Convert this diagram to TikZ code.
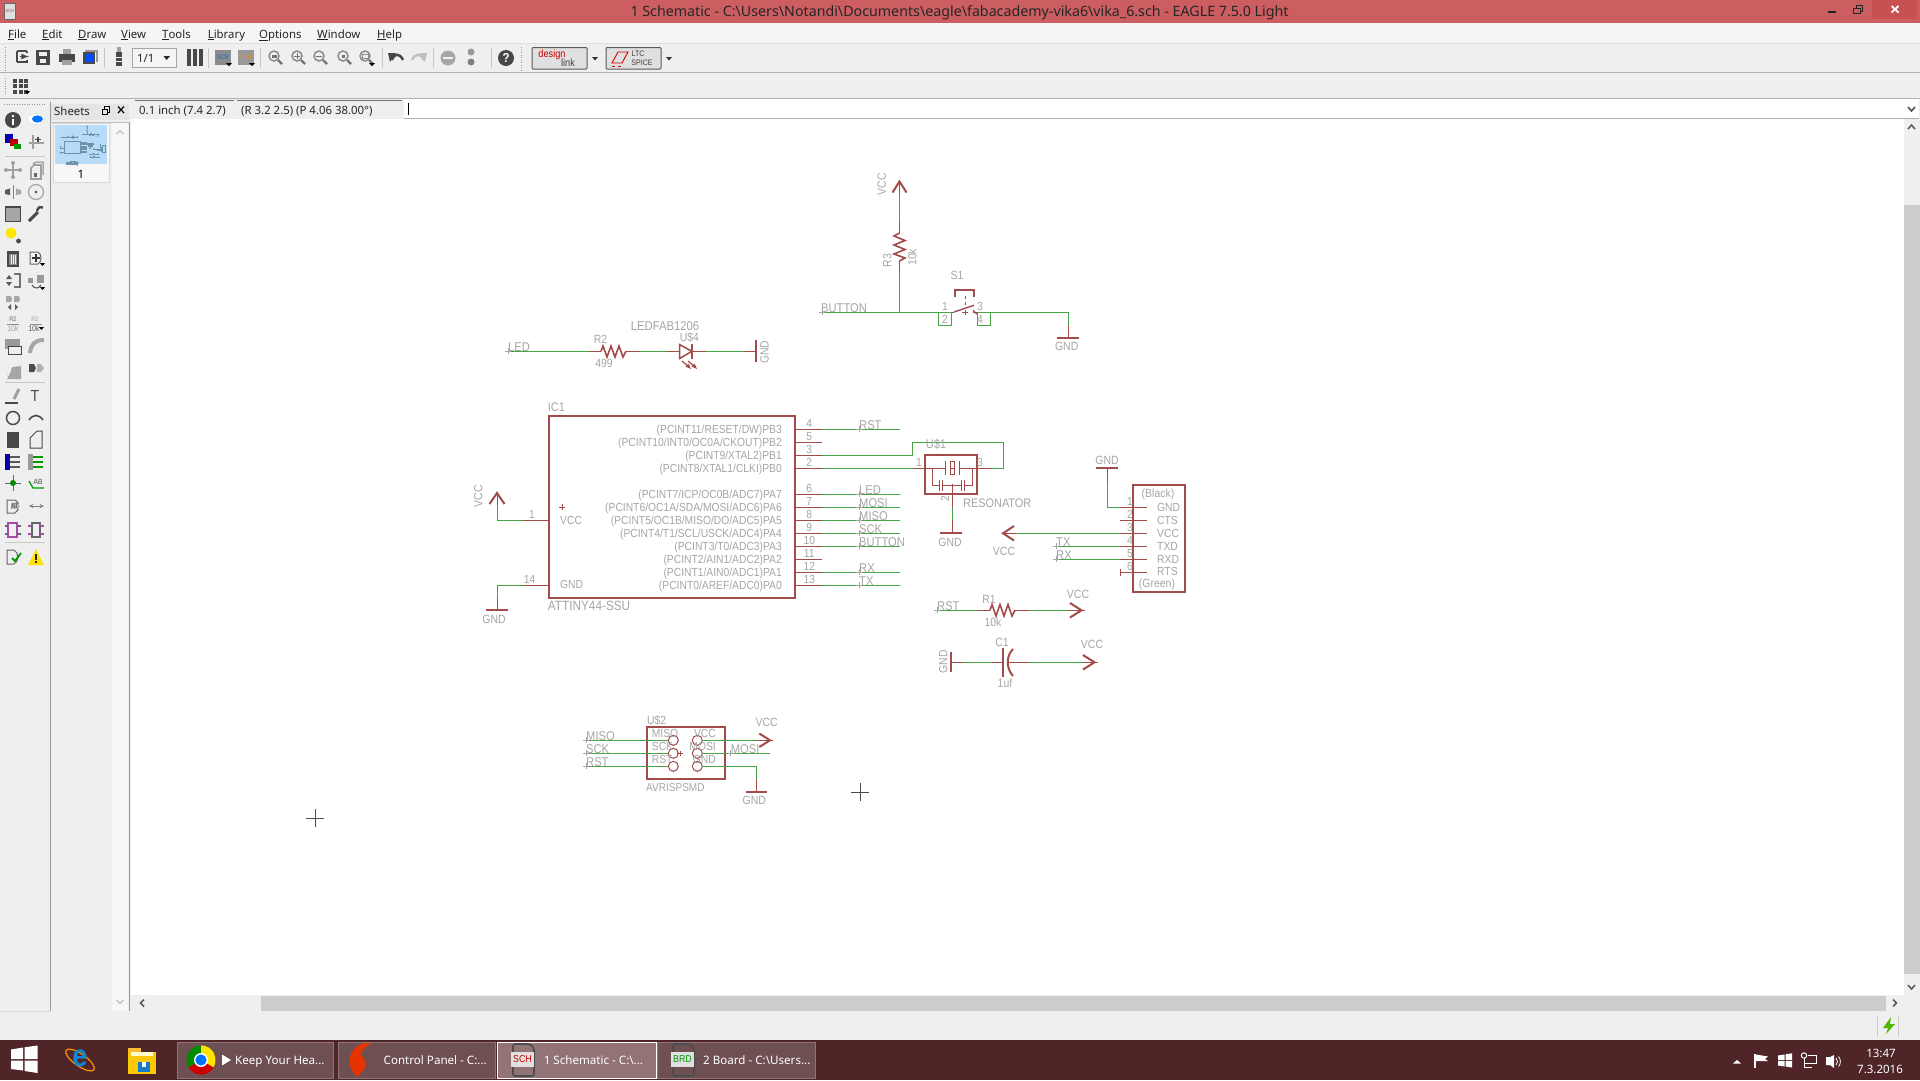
\documentclass[tikz,border=0pt]{standalone}
\usepackage{fontspec}
\setmainfont[FakeStretch=0.88]{Liberation Sans}
\newfontfamily\ui{Noto Sans}
\newfontfamily\sym{DejaVu Sans}
\definecolor{titlered}{HTML}{CC5D60}
\definecolor{closered}{HTML}{C75050}
\definecolor{menubg}{HTML}{F4F5F7}
\definecolor{barbg}{HTML}{EFEFEF}
\definecolor{barline}{HTML}{B0B0B0}
\definecolor{schred}{HTML}{A34A4A}
\definecolor{schgreen}{HTML}{46A546}
\definecolor{lblgray}{HTML}{A6A6A6}
\definecolor{taskbg}{HTML}{4F2527}
\definecolor{taskbtn}{HTML}{6F5052}
\definecolor{taskact}{HTML}{927476}
\definecolor{taskedge}{HTML}{8F7577}
\definecolor{ico}{HTML}{484848}
\definecolor{icogray}{HTML}{A0A0A0}
\definecolor{thumbblue}{HTML}{B8DCF8}
\definecolor{thumbline}{HTML}{6C93A8}
\tikzset{
 rl/.style={draw=schred,line width=1pt},
 zz/.style={draw=schred,line width=1.6pt},
 gl/.style={draw=schgreen,line width=1pt},
 hv/.style={draw=schred,line width=2pt},
 tk/.style={draw=lblgray,line width=.7pt},
 lbl/.style={text=lblgray,font=\fontsize{11.9}{12}\selectfont,inner sep=0pt,text height=8.5pt,text depth=0pt},
 pn/.style={text=lblgray,font=\fontsize{11.7}{12}\selectfont,inner sep=0pt,text height=8.3pt,text depth=0pt},
 netl/.style={text=lblgray,font=\fontsize{12.7}{13}\selectfont,inner sep=0pt,text height=9pt,text depth=0pt,anchor=south west},
 uit/.style={text=black!85,font=\fontsize{11.4}{13}\selectfont\ui,inner sep=0pt,text height=8.5pt,text depth=0pt},
 menut/.style={uit,anchor=west},
 taskt/.style={text=white,font=\fontsize{11.6}{13}\selectfont\ui,inner sep=0pt,text height=8.5pt,text depth=0pt,anchor=west},
 sep/.style={draw=black!22,line width=.8pt},
 grip/.style={draw=black!40,line width=1pt,dash pattern=on 1pt off 1.5pt},
 ikon/.style={draw=ico,line width=1.6pt},
 ikong/.style={draw=icogray,line width=1.6pt},
 tinyt/.style={inner sep=0pt,font=\fontsize{6.5}{7}\selectfont},
}
% the drawing of the schematic: used on the sheet and in its small preview
\newcommand{\schemlines}{%
 % IC1
 \draw[hv] (549,416) rectangle (795,598);
 \foreach \yy in {429.3,442.3,455.3,468.3,494.3,507.3,520.3,533.3,546.3,559.3,572.3,585.3}
   \draw[rl] (795,\yy) -- (822,\yy);
 \foreach \yy in {429.3,494.3,507.3,520.3,533.3,546.3,572.3,585.3}
   \draw[gl] (822,\yy) -- (900,\yy);
 \draw[gl] (822,455.3) -- (912,455.3) -- (912,442.3) -- (1003,442.3) -- (1003,468.3) -- (991,468.3);
 \draw[gl] (822,468.3) -- (913,468.3);
 \draw[rl] (549,520.3) -- (523,520.3);
 \draw[gl] (523,520.3) -- (497,520.3) -- (497,505);
 \draw[rl] (497,505) -- (497,492);
 \draw[hv] (489.5,504) -- (497,493) -- (504.5,504);
 \draw[rl] (549,585.3) -- (523,585.3);
 \draw[gl] (523,585.3) -- (497,585.3) -- (497,598);
 \draw[rl] (497,598) -- (497,610);
 \draw[hv] (486,610) -- (508,610);
 % resonator
 \draw[hv] (925,455) rectangle (977,494);
 \draw[rl] (913,468.3) -- (945,468.3);
 \draw[rl] (945,461) -- (945,475);
 \draw[rl] (950,461) rectangle (954,474);
 \draw[rl] (950,468.3) -- (954,468.3);
 \draw[rl] (959,461) -- (959,475);
 \draw[rl] (959,468.3) -- (991,468.3);
 \draw[rl] (932,468.3) -- (932,485) -- (939,485);
 \draw[rl] (939,480) -- (939,491);
 \draw[rl] (942,480) -- (942,491);
 \draw[rl] (942,485) -- (961,485);
 \draw[rl] (961,480) -- (961,491);
 \draw[rl] (964,480) -- (964,491);
 \draw[rl] (964,485) -- (972,485) -- (972,468.3);
 \draw[rl] (952,484) -- (952,507);
 \draw[gl] (952,507) -- (952,520);
 \draw[rl] (952,520) -- (952,533);
 \draw[hv] (940,533) -- (962,533);
 % FTDI header
 \draw[hv] (1133,485) rectangle (1185,592);
 \foreach \yy in {507.3,520.3,533.3,546.3,559.3,572.3}
   \draw[rl] (1120,\yy) -- (1147,\yy);
 \draw[hv] (1096,468) -- (1118,468);
 \draw[rl] (1107,468) -- (1107,482);
 \draw[gl] (1107,482) -- (1107,507.3) -- (1120,507.3);
 \draw[gl] (1120,533.3) -- (1017,533.3);
 \draw[rl] (1017,533.3) -- (1003,533.3);
 \draw[hv] (1014,526) -- (1003,533.3) -- (1014,540.5);
 \draw[gl] (1056,546.3) -- (1120,546.3);
 \draw[gl] (1056,559.3) -- (1120,559.3);
 \draw[rl] (1120,569) -- (1120,575.5);
 % R1
 \draw[gl] (937,610.3) -- (977,610.3);
 \draw[rl] (977,610.3) -- (990,610.3);
 \draw[zz] (990,610.3) -- (992,604.5) -- (996,616) -- (1000,604.5) -- (1004,616) -- (1008,604.5) -- (1012,616) -- (1015,610.3);
 \draw[rl] (1015,610.3) -- (1029,610.3);
 \draw[gl] (1029,610.3) -- (1068,610.3);
 \draw[rl] (1068,610.3) -- (1085,610.3);
 \draw[hv] (1070,603) -- (1081.5,610.3) -- (1070,617.5);
 % C1
 \draw[hv] (951,652) -- (951,672);
 \draw[rl] (951,662.3) -- (964,662.3);
 \draw[gl] (964,662.3) -- (991,662.3);
 \draw[rl] (991,662.3) -- (1003,662.3);
 \draw[hv] (1003,648) -- (1003,677);
 \draw[hv] (1013,649) .. controls (1006,656) and (1006,668) .. (1013,676);
 \draw[rl] (1008,662.3) -- (1029,662.3);
 \draw[gl] (1029,662.3) -- (1084,662.3);
 \draw[rl] (1084,662.3) -- (1098,662.3);
 \draw[hv] (1083,655) -- (1094.5,662.3) -- (1083,669.5);
 % R3 and VCC
 \draw[rl] (899.5,181) -- (899.5,195);
 \draw[hv] (892.5,192.5) -- (899.5,181.5) -- (906.5,192.5);
 \draw[gl] (899.5,195) -- (899.5,221);
 \draw[rl] (899.5,221) -- (899.5,233);
 \draw[zz] (899.5,233) -- (894,236) -- (905,240.5) -- (894,245) -- (905,249.5) -- (894,254) -- (905,258) -- (899.5,261);
 \draw[rl] (899.5,261) -- (899.5,273.3);
 \draw[gl] (899.5,273.3) -- (899.5,312.3);
 % S1
 \draw[gl] (822,312.3) -- (951.5,312.3) -- (951.5,325.3) -- (938.5,325.3) -- (938.5,312.3);
 \draw[gl] (990.5,312.3) -- (990.5,325.3) -- (977.5,325.3) -- (977.5,312.3) -- (1068.6,312.3) -- (1068.6,325);
 \draw[rl] (1068.6,325) -- (1068.6,338);
 \draw[hv] (1057,338) -- (1079,338);
 \draw[rl] (951.5,312.3) -- (954,312.3);
 \draw[schred,line width=1.4pt] (954,312) -- (974,305.3);
 \draw[rl] (973,312.3) -- (977.5,312.3);
 \draw[schred,line width=1.4pt] (973,310.5) -- (977,314);
 \draw[rl] (965,309.5) -- (965,315);
 \draw[rl] (962,312.3) -- (968,312.3);
 \draw[rl,dashed] (965,296) -- (965,309);
 \draw[hv] (954.5,297) -- (954.5,290) -- (974,290) -- (974,297);
 % LED and R2
 \draw[gl] (508,351.3) -- (589,351.3);
 \draw[rl] (589,351.3) -- (601,351.3);
 \draw[zz] (601,351.3) -- (603,346) -- (607,357) -- (611,346) -- (615,357) -- (619,346) -- (623,357) -- (626,351.3);
 \draw[rl] (626,351.3) -- (640.4,351.3);
 \draw[gl] (640.4,351.3) -- (667,351.3);
 \draw[rl] (667,351.3) -- (680,351.3);
 \draw[schred,line width=1.5pt] (679.5,344.5) -- (679.5,358.5) -- (692,351.3) -- cycle;
 \draw[hv] (692,344) -- (692,359);
 \draw[rl] (692,351.3) -- (705.5,351.3);
 \draw[gl] (705.5,351.3) -- (743.3,351.3);
 \draw[rl] (743.3,351.3) -- (756,351.3);
 \draw[hv] (756,340.3) -- (756,362);
 \draw[schred,line width=1.2pt] (682,361) -- (689,367);
 \draw[schred,line width=1.2pt] (688,361) -- (695,367);
 \fill[schred] (691,369) -- (685.5,366.5) -- (688.5,363.5) -- cycle;
 \fill[schred] (697,369) -- (691.5,366.5) -- (694.5,363.5) -- cycle;
 % AVRISP
 \draw[hv] (646.7,726.7) rectangle (725.3,779.3);
 \foreach \yy in {740.3,753.3,766.3} {
   \draw[gl] (586,\yy) -- (668.3,\yy);
   \draw[rl] (673.3,\yy) circle [radius=5];
   \draw[rl] (697.3,\yy) circle [radius=5];
 }
 \draw[rl] (677,753.3) -- (682.5,753.3);
 \draw[rl] (680,750.5) -- (680,756);
 \draw[gl] (702.3,740.3) -- (756.7,740.3);
 \draw[rl] (756.7,740.3) -- (772.7,740.3);
 \draw[hv] (759.3,733.5) -- (770,740.3) -- (759.3,747);
 \draw[gl] (702.3,753.3) -- (770,753.3);
 \draw[gl] (702.3,766.3) -- (756.7,766.3) -- (756.7,779.3);
 \draw[rl] (756.7,779.3) -- (756.7,791.7);
 \draw[hv] (746,791.7) -- (766.7,791.7);
}
\newcommand{\lensicon}[3]{% x, y, inner mark
 \draw[draw=black!45,line width=1.5pt] (#1-1,#2-1) circle [radius=5];
 \draw[draw=black!55,line width=2.2pt] (#1+3,#2+3) -- (#1+7,#2+7);
 \node[inner sep=0pt,text=black!55,font=\fontsize{8}{8}\selectfont\bfseries] (#3) at (#1-1,#2-1) {};
}
\begin{document}
\begin{tikzpicture}[x=1pt,y=-1pt]
\useasboundingbox (0,0) rectangle (1920,1080);
% ---- window chrome ----
\fill[barbg] (0,0) rectangle (1920,1080);
\fill[titlered] (0,0) rectangle (1920,22.7);
\fill[closered] (1872,0) rectangle (1917,19);
\fill[menubg] (0,23) rectangle (1920,43);
\draw[black!12,line width=1pt] (0,43.5) -- (1920,43.5);
\draw[barline,line width=1pt] (0,72.3) -- (1920,72.3);
\draw[barline,line width=1.5pt] (0,98.3) -- (1920,98.3);
\fill[white] (131,119) rectangle (1904,995);
% title bar
\node[text=black!85,font=\fontsize{14.24}{16}\selectfont\ui,inner sep=0pt,text height=10pt,text depth=0pt] (title) at (959.5,11) {1 Schematic - C:\textbackslash Users\textbackslash Notandi\textbackslash Documents\textbackslash eagle\textbackslash fabacademy-vika6\textbackslash vika\_6.sch - EAGLE 7.5.0 Light};
\draw[black!60,fill=black!12,line width=.9pt] (4.5,3.5) rectangle (15,19);
\node[inner sep=0pt,text=schred,font=\fontsize{4.5}{5}\selectfont] (titleico) at (9.8,10.5) {SCH};
\draw[black!85,line width=2pt] (1828,12) -- (1836,12);
\draw[black!85,line width=1pt] (1853.5,8) rectangle (1860.5,13.5);
\draw[black!85,line width=1pt] (1856,8) -- (1856,5) -- (1862.5,5) -- (1862.5,11) -- (1860.5,11);
\draw[white,line width=1.8pt] (1891.5,6) -- (1898.5,12.5);
\draw[white,line width=1.8pt] (1898.5,6) -- (1891.5,12.5);
% menu
\node[menut] (mfile) at (8,34) {\underline{F}ile};
\node[menut] (medit) at (42,34) {\underline{E}dit};
\node[menut] (mdraw) at (78,34) {\underline{D}raw};
\node[menut] (mview) at (121,34) {\underline{V}iew};
\node[menut] (mtools) at (162,34) {\underline{T}ools};
\node[menut] (mlib) at (207.6,34) {\underline{L}ibrary};
\node[menut] (mopt) at (259,34) {\underline{O}ptions};
\node[menut] (mwin) at (317,34) {\underline{W}indow};
\node[menut] (mhelp) at (377,34) {\underline{H}elp};
% toolbar
\draw[grip] (5,47) -- (5,70);
\draw[grip] (5,78) -- (5,95);
\draw[ikon,rounded corners=1pt] (17,62) -- (17,51) -- (27,51) -- (27,53);
\draw[ikon] (17,62) -- (27,62) -- (27,60);
\draw[ikon,-latex] (20,56.5) -- (29,56.5);
\fill[ico] (36,50) rectangle (50,65); \fill[barbg] (39,51.5) rectangle (47,56); \fill[barbg] (40,59) rectangle (46,63);
\fill[icogray] (63,49) rectangle (71,54); \fill[ico] (59,54) rectangle (75,62); \fill[icogray] (62,60) rectangle (72,65);
\fill[ico] (83,52) rectangle (95,64); \fill[black!40] (85,50) rectangle (97,51.5); \fill[black!40] (96,50) rectangle (97.5,62); \fill[blue!70!cyan] (86,54) rectangle (93,62);
\draw[sep] (104,48) -- (104,68);
\fill[ico] (116,52) rectangle (122,66); \fill[icogray] (117,47) rectangle (121,52); \draw[barbg,line width=.8pt] (116,57) -- (122,57); \draw[barbg,line width=.8pt] (116,61) -- (122,61);
\draw[black!35,fill=menubg,line width=.8pt] (132,48.5) rectangle (176,67.5);
\node[uit,anchor=west] (sheetcombo) at (137,58) {1/1};
\fill[black!85] (163.5,56) -- (170,56) -- (166.7,60) -- cycle;
\foreach \xx in {189,195,201} \draw[ico,line width=4pt,rounded corners=1pt] (\xx-.5,49) -- (\xx-.5,66);
\draw[sep] (208,48) -- (208,68);
\fill[black!45] (215,50) rectangle (231,65);
\node[inner sep=0pt,text=blue!60!cyan,font=\fontsize{6.5}{7}\selectfont] (scr) at (223,57) {SCR};
\fill[black!40] (238,50) rectangle (254,65);
\node[inner sep=0pt,text=orange,font=\fontsize{6.5}{7}\selectfont] (ulp) at (246,57) {ULP};
\fill[black] (226,63) -- (232,63) -- (229,66) -- cycle;
\fill[black] (249,63) -- (255,63) -- (252,66) -- cycle;
\draw[sep] (260,48) -- (260,68);
\lensicon{275}{57}{z1} \fill[black!55] (271.5,54.5) rectangle (276.5,58);
\lensicon{298}{57}{z2} \draw[black!55,line width=1pt] (294,56) -- (300,56) (297,53) -- (297,59);
\lensicon{320}{57}{z3} \draw[black!55,line width=1pt] (316,56) -- (322,56);
\lensicon{344}{57}{z4} \fill[black!55] (341.5,54.5) rectangle (344.5,57.5);
\lensicon{366}{57}{z5} \draw[black!45,line width=1pt] (362,54) rectangle (368,58);
\fill[black] (369,63) -- (375,63) -- (372,66) -- cycle;
\draw[sep] (382,48) -- (382,68);
\draw[ico,line width=2.4pt] (392,60) .. controls (394,53) and (400,53) .. (403,60);
\fill[ico] (388,53) -- (396,53) -- (390,62) -- cycle;
\draw[black!25,line width=2.4pt] (424,60) .. controls (421,53) and (415,53) .. (412,60);
\fill[black!25] (427,53) -- (419,53) -- (425,62) -- cycle;
\draw[sep] (433,48) -- (433,68);
\fill[black!35] (448,58) circle [radius=7.5]; \fill[barbg] (443,56.8) rectangle (453,59.2);
\fill[black!40] (471,52) circle [radius=3.5]; \fill[black!50] (471,62) circle [radius=3.5];
\draw[sep] (491,48) -- (491,68);
\fill[ico] (506,58) circle [radius=8];
\node[inner sep=0pt,text=white,font=\fontsize{13}{13}\selectfont\bfseries] (helpq) at (506,58) {?};
\draw[grip] (521,47) -- (521,70);
\draw[black!65,fill=black!12,line width=1pt,rounded corners=1pt] (532,47.5) rectangle (587,69);
\node[inner sep=0pt,text=red!80!black,font=\fontsize{10.5}{11}\selectfont] (dl1) at (552,54.5) {design};
\node[inner sep=0pt,text=black!75,font=\fontsize{10.5}{11}\selectfont] (dl2) at (568,63) {link};
\fill[black!80] (592,57) -- (598,57) -- (595,60.5) -- cycle;
\draw[black!65,fill=black!12,line width=1pt,rounded corners=1pt] (606,47.5) rectangle (661,69);
\draw[red!80!black,line width=.9pt] (612,63) -- (618,52) -- (628,52) -- (622,63) -- cycle;
\draw[red!80!black,line width=.8pt,dashed] (612,66) -- (624,66);
\node[inner sep=0pt,text=black!75,font=\fontsize{8}{8}\selectfont] (ltc) at (638,53.5) {LTC};
\node[inner sep=0pt,text=black!75,font=\fontsize{8}{8}\selectfont] (spice) at (642,63) {SPICE};
\fill[black!80] (666,57) -- (672,57) -- (669,60.5) -- cycle;
% grid icon
\foreach \xx in {13,18.5,24} \foreach \yy in {78.5,84,89.5} \fill[ico] (\xx,\yy) rectangle (\xx+4.3,\yy+4.3);
\fill[black] (25,91) -- (30,91) -- (27.5,94) -- cycle;
% status fields
\fill[barbg] (135,99) rectangle (234,118);
\fill[barbg] (237,99) rectangle (402,118);
\draw[black!55,line width=.8pt] (135,100) -- (234,100);
\draw[black!55,line width=.8pt] (237,100) -- (402,100);
\node[uit,anchor=west] (gridinfo) at (139,110) {0.1 inch (7.4 2.7)};
\node[uit,anchor=west] (coordinfo) at (241,110) {(R 3.2 2.5) (P 4.06 38.00°)};
\fill[white] (404,99) rectangle (1919,118);
\draw[barline,line width=.8pt] (404,118.3) -- (1919,118.3);
\draw[black,line width=.8pt] (408.5,103) -- (408.5,115);
\draw[black!65,line width=1.6pt] (1908,107) -- (1911.5,111) -- (1915,107);
% sheets panel
\draw[black!40,line width=.8pt] (50,102) -- (50,1011);
\draw[black!40,line width=.8pt] (129,122) -- (129,1011);
\draw[black!25,line width=.8pt] (50,122) -- (129,122);
\fill[black!10] (51,104) rectangle (129,120);
\node[uit,anchor=west] (sheets) at (54,111) {Sheets};
\draw[black,line width=1pt] (102,109) rectangle (107,114.5);
\draw[black,line width=1pt] (104,109) -- (104,106.5) -- (109.5,106.5) -- (109.5,112) -- (107,112);
\draw[black,line width=1.2pt] (118,106.5) -- (124,113);
\draw[black,line width=1.2pt] (124,106.5) -- (118,113);
\fill[black!3] (112,123) rectangle (128,1011);
\draw[black!25,line width=1.2pt] (116.5,134) -- (120,130.5) -- (123.5,134);
\draw[black!25,line width=1.2pt] (116.5,1000) -- (120,1003.5) -- (123.5,1000);
\draw[black!15,fill=black!3,line width=.8pt] (53,123) rectangle (109,182);
\fill[thumbblue] (55,125) rectangle (107,164);
\begin{scope}[x=.065pt,y=-.065pt,xshift=28.3pt,yshift=-114pt,
  rl/.style={draw=thumbline,line width=.3pt},
  zz/.style={draw=thumbline,line width=.3pt},
  gl/.style={draw=thumbline,line width=.3pt},
  hv/.style={draw=thumbline,line width=.5pt},
  schred/.style={draw=thumbline}]
 \schemlines
\end{scope}
\node[inner sep=0pt,text=black,font=\fontsize{11.5}{13}\selectfont\ui] (sheetno) at (81,174) {1};
% left tool column
\draw[grip] (4,104) -- (46,104);
\draw[sep] (5,156) -- (45,156);
\draw[sep] (5,382) -- (45,382);
\draw[sep] (5,542) -- (45,542);
\fill[ico] (13,120) circle [radius=8];
\fill[white] (13,116) circle [radius=1.3]; \fill[white] (12,118.5) rectangle (14,125);
\fill[white,draw=black!15] (36,119) ellipse [x radius=8.5,y radius=5.5];
\fill[blue!55!cyan] (37.5,119) ellipse [x radius=5.5,y radius=3.6];
\fill[blue!70!black] (5,134) rectangle (13,143);
\fill[red!75!black] (10,139) rectangle (18,146);
\fill[green!60!black] (14,144) rectangle (21,149);
\draw[icogray,line width=1.2pt] (29,143) -- (44,143);
\draw[icogray,line width=1.2pt] (33,135) -- (33,149);
\draw[ico,line width=1.2pt] (38,136.5) -- (38,142) (35.3,139.3) -- (40.7,139.3);
% move / copy
\draw[ikong] (7.5,170) -- (18.5,170) (13,164.5) -- (13,175.5);
\fill[icogray] (6,170) circle [radius=2]; \fill[icogray] (20,170) circle [radius=2]; \fill[icogray] (13,163) circle [radius=2]; \fill[icogray] (13,177) circle [radius=2];
\draw[ikong] (31,168) -- (31,179) -- (41,179) -- (41,165) -- (34,165) -- cycle;
\draw[black!50,line width=1pt] (33,164) -- (36,162) -- (43,162) -- (43,175);
\fill[black!60] (33.5,173) rectangle (37,177);
\draw[black!50,line width=1pt] (13,185) -- (13,199);
\fill[black!65] (5,190) -- (10,188.5) -- (10,195) -- (5,194) -- cycle;
\fill[black!35] (21,190) -- (16,188.5) -- (16,195) -- (21,194) -- cycle;
\draw[black!35,line width=1.2pt] (36,192) circle [radius=7.5];
\fill[black!60] (36,192) circle [radius=1.6];
% group / wrench
\draw[ico,line width=1.5pt,fill=black!35] (5.5,207) rectangle (20.5,221.5);
\draw[ico,line width=3pt] (29,221) -- (38,212);
\draw[ico,line width=2.4pt] (37,211) .. controls (38,207) and (41,206) .. (43,207.5);
% properties
\fill[yellow!90!orange] (11,233) circle [radius=5.5];
\fill[ico] (18.5,241) circle [radius=2.4];
% delete / add
\draw[ico,fill=black!45,line width=1.3pt] (8,253) rectangle (18,266);
\draw[ico,line width=2pt] (7,252) -- (19,252);
\draw[barbg,line width=.7pt] (11,255) -- (11,264) (13,255) -- (13,264) (15,255) -- (15,264);
\draw[black!60,line width=1pt] (30,252) -- (38,252) .. controls (42,254) and (42,262) .. (38,264) -- (30,264) -- cycle;
\draw[black!80,line width=1.3pt] (36,254) -- (36,262) (32,258) -- (40,258);
\fill[black] (40,263) -- (45,263) -- (42.5,266) -- cycle;
% pin/gate swap, replace
\draw[black!55,line width=1.2pt] (14,274) -- (20,274) -- (20,287) -- (14,287);
\fill[black!65] (6,279) -- (9,275) -- (12,279) -- cycle; \fill[black!65] (6,282) -- (12,282) -- (9,286) -- cycle;
\fill[black!40] (28,278) rectangle (33,283); \fill[black!40] (37,275) rectangle (44,283);
\draw[black!70,line width=1pt] (32,285) .. controls (34,289) and (39,289) .. (41,285);
\fill[black] (40,287) -- (45,287) -- (42.5,290) -- cycle;
\fill[black!35] (6,296) -- (11,296) -- (12,299) -- (11,302) -- (6,302) -- cycle;
\fill[black!35] (14,296) -- (19,296) -- (20,299) -- (19,302) -- (14,302) -- cycle;
\fill[black!65] (8,307) -- (11,304) -- (11,310) -- cycle; \fill[black!65] (18,307) -- (15,304) -- (15,310) -- cycle;
% name / value
\node[tinyt,text=black!60] (nameR) at (13,319) {R2};
\draw[black!45,line width=1pt] (7,324) -- (19,324);
\node[tinyt,text=black!35,font=\fontsize{8}{8}\selectfont] (name10) at (13,329) {10k};
\node[tinyt,text=black!35] (valR) at (35,319) {R2};
\draw[black!45,line width=1pt] (30,324) -- (42,324);
\node[tinyt,text=black!65,font=\fontsize{8}{8}\selectfont] (val10) at (34,329) {10k};
\fill[black] (39,327) -- (44,327) -- (41.5,330) -- cycle;
% smash, miter, split, invoke
\fill[black!40] (5,339) rectangle (20,349);
\draw[ico,fill=barbg,line width=1pt] (8,346) rectangle (21,354);
\draw[black!35,line width=4pt] (30,353) .. controls (31,344) and (35,340) .. (44,340);
\fill[black!35] (7,379) -- (9,365) -- (21,363) -- (21,379) -- cycle;
\fill[barbg] (10,373) -- (12,367) -- (21,366) -- (21,363) -- (9,363) -- (7,379) -- cycle;
\fill[black!70] (29,364) -- (34,364) -- (36,368) -- (34,372) -- (29,372) -- cycle;
\fill[black!30] (37,364) -- (41,364) -- (44,368) -- (41,372) -- (37,372) -- cycle;
% wire, text
\draw[ico,line width=1.2pt] (5,403) -- (18,403);
\draw[icogray,line width=3pt] (14,399) -- (19,389);
\node[inner sep=0pt,text=ico,font=\fontsize{16}{16}\selectfont] (toolT) at (35,396) {T};
\draw[ico,line width=1.5pt] (13,418) circle [radius=6.5];
\draw[ico,line width=1.6pt] (29,420) .. controls (33,414) and (39,414) .. (43,420);
\fill[ico] (7,432) rectangle (19,448);
\draw[ico,line width=1pt] (30,448) -- (30,438) -- (37,431) -- (42,431) -- (42,448) -- cycle;
% bus, net, junction, label
\fill[blue!65!black] (5,454) rectangle (10,470);
\draw[black!65,line width=1.1pt] (10,457) -- (20,457) (10,462) -- (20,462) (10,467) -- (20,467);
\fill[black!40] (28,454) rectangle (33,470);
\draw[green!60!black,line width=1.1pt] (33,457) -- (43,457) (33,462) -- (43,462) (33,467) -- (43,467);
\draw[black!60,line width=1pt] (5,483) -- (21,483) (13,475) -- (13,491);
\fill[green!55!black] (13,483) circle [radius=3];
\draw[green!60!black,line width=1.3pt] (29,481) -- (33,488) -- (44,488);
\node[tinyt,text=ico,font=\fontsize{7.5}{8}\selectfont] (toolAB) at (38,482) {AB};
% attribute, dimension
\draw[black!60,line width=1pt] (7,500) -- (15,500) .. controls (20,502) and (20,510) .. (15,513) -- (7,513) -- cycle;
\node[tinyt,text=ico,font=\fontsize{7.5}{8}\selectfont,fill=black!30] (toolAT) at (15,506) {AT};
\draw[black!50,line width=1pt,<->,>=stealth] (29,506) -- (44,506);
% module icons
\draw[violet!70,line width=1.2pt] (8,523) rectangle (17,537);
\draw[black!60,line width=1.1pt] (5,526) -- (8,526) (5,534) -- (8,534) (17,526) -- (21,526) (17,534) -- (21,534);
\draw[black!60,line width=1.1pt] (32,523) rectangle (40,537);
\draw[violet!70,line width=1.1pt] (28,526) -- (32,526) (28,534) -- (32,534) (40,526) -- (44,526) (40,534) -- (44,534);
% check and warning
\draw[black!60,line width=1pt] (7,550) -- (14,550) .. controls (19,552) and (19,562) .. (14,564) -- (7,564) -- cycle;
\draw[green!60!black,line width=1.8pt] (12,558) -- (15,561) -- (21,553);
\fill[yellow!85!orange] (36,549) -- (44,565) -- (28,565) -- cycle;
\fill[black!85] (35,554) rectangle (37,560); \fill[black!85] (35,561) rectangle (37,563);
% scrollbars and status bar
\fill[barbg] (1904,119) rectangle (1920,1011);
\fill[black!20] (1904,205) rectangle (1920,974);
\draw[black!65,line width=1.5pt] (1908,129) -- (1911.5,125) -- (1915,129);
\draw[black!65,line width=1.5pt] (1908,985) -- (1911.5,989) -- (1915,985);
\fill[barbg] (131,995) rectangle (1904,1011);
\fill[black!20] (261,996) rectangle (1886,1011);
\draw[black!65,line width=1.5pt] (144,999.5) -- (140.5,1003) -- (144,1006.5);
\draw[black!65,line width=1.5pt] (1893,999.5) -- (1896.5,1003) -- (1893,1006.5);
\fill[barbg] (0,1012) rectangle (1920,1040);
\draw[black!15,line width=.8pt] (0,1011.5) -- (50,1011.5);
\draw[black!20,line width=.8pt] (1877,1015) -- (1877,1037) (1898,1015) -- (1898,1037);
\fill[green!60!black!70!yellow] (1891,1017) -- (1883,1028) -- (1888,1028) -- (1886,1034) -- (1895,1024) -- (1890,1024) -- cycle;
% ---- schematic ----
\schemlines
\draw[black!70,line width=.35pt] (306,818) -- (324,818) (315,809) -- (315,827);
\draw[black!70,line width=.35pt] (851,792) -- (869,792) (860,783) -- (860,801);
\draw[schred,line width=.9pt] (559,507) -- (565,507) (562,504) -- (562,510);
% net origins
\foreach \xx/\yy in {859/429.3,859/494.3,859/507.3,859/520.3,859/533.3,859/546.3,859/572.3,859/585.3,937/610.3,1056/546.3,1056/559.3,508/351.3,822/312.3,586/740.3,586/753.3,586/766.3,730.7/753.3}
  \draw[tk] (\xx-3,\yy) -- (\xx+3,\yy) (\xx,\yy-3) -- (\xx,\yy+3);
% IC text
\node[pn,anchor=west,font=\fontsize{12.5}{13}\selectfont] (ic1) at (547.7,407.7) {IC1};
\node[pn,anchor=west,font=\fontsize{13.4}{14}\selectfont] (ictype) at (547.7,606) {ATTINY44-SSU};
\node[pn,anchor=east] (p1) at (782,429.3) {(PCINT11/RESET/DW)PB3};
\node[pn,anchor=east] (p2) at (782,442.3) {(PCINT10/INT0/OC0A/CKOUT)PB2};
\node[pn,anchor=east] (p3) at (782,455.3) {(PCINT9/XTAL2)PB1};
\node[pn,anchor=east] (p4) at (782,468.3) {(PCINT8/XTAL1/CLKI)PB0};
\node[pn,anchor=east] (p5) at (782,494.3) {(PCINT7/ICP/OC0B/ADC7)PA7};
\node[pn,anchor=east] (p6) at (782,507.3) {(PCINT6/OC1A/SDA/MOSI/ADC6)PA6};
\node[pn,anchor=east] (p7) at (782,520.3) {(PCINT5/OC1B/MISO/DO/ADC5)PA5};
\node[pn,anchor=east] (p8) at (782,533.3) {(PCINT4/T1/SCL/USCK/ADC4)PA4};
\node[pn,anchor=east] (p9) at (782,546.3) {(PCINT3/T0/ADC3)PA3};
\node[pn,anchor=east] (p10) at (782,559.3) {(PCINT2/AIN1/ADC2)PA2};
\node[pn,anchor=east] (p11) at (782,572.3) {(PCINT1/AIN0/ADC1)PA1};
\node[pn,anchor=east] (p12) at (782,585.3) {(PCINT0/AREF/ADC0)PA0};
\node[pn,anchor=west] (pvcc) at (560,520.3) {VCC};
\node[pn,anchor=west] (pgnd) at (560,584.5) {GND};
\foreach \nn/\yy in {4/429.3,5/442.3,3/455.3,2/468.3,6/494.3,7/507.3,8/520.3,9/533.3,10/546.3,11/559.3,12/572.3,13/585.3}
  \node[pn] (num\nn) at (809.3,\yy-6) {\nn};
\node[pn] (num1) at (532,514.3) {1};
\node[pn] (num14) at (529.5,579.3) {14};
\node[lbl,rotate=90] (vccic) at (478,496) {VCC};
\node[lbl] (gndic) at (494,619) {GND};
% net labels on IC
\node[netl] (nrst) at (859,429.3) {RST};
\node[netl] (nled) at (859,494.3) {LED};
\node[netl] (nmosi) at (859,507.3) {MOSI};
\node[netl] (nmiso) at (859,520.3) {MISO};
\node[netl] (nsck) at (859,533.3) {SCK};
\node[netl] (nbtn) at (859,546.3) {BUTTON};
\node[netl] (nrx) at (859,572.3) {RX};
\node[netl] (ntx) at (859,585.3) {TX};
% resonator text
\node[pn,font=\fontsize{12.5}{13}\selectfont] (u1) at (936,444) {U\$1};
\node[pn] (r1n) at (919,462) {1};
\node[pn] (r3n) at (980,462) {3};
\node[pn,rotate=90] (r2n) at (945,499) {2};
\node[pn,anchor=west,font=\fontsize{12.4}{13}\selectfont] (resn) at (963,503) {RESONATOR};
\node[lbl] (gndres) at (950,542) {GND};
% FTDI text
\node[lbl] (gndft) at (1107,460) {GND};
\node[lbl] (black) at (1158,493) {(Black)};
\node[lbl] (green) at (1157,583) {(Green)};
\node[pn,anchor=west] (fg) at (1157,507.3) {GND};
\node[pn,anchor=west] (fc) at (1157,520.3) {CTS};
\node[pn,anchor=west] (fv) at (1157,533.3) {VCC};
\node[pn,anchor=west] (ft) at (1157,546.3) {TXD};
\node[pn,anchor=west] (fr) at (1157,559.3) {RXD};
\node[pn,anchor=west] (fs) at (1157,571.5) {RTS};
\foreach \nn/\yy in {1/507.3,2/520.3,3/533.3,4/546.3,5/559.3,6/572.3}
  \node[pn] (fn\nn) at (1130,\yy-6) {\nn};
\node[lbl] (vccft) at (1004,551) {VCC};
\node[netl] (txft) at (1056,546.3) {TX};
\node[netl] (rxft) at (1056,559.3) {RX};
% R1, C1 text
\node[netl] (rst1) at (937,610.3) {RST};
\node[lbl] (r1l) at (989,599) {R1};
\node[lbl] (r1v) at (993,622) {10k};
\node[lbl] (vccr1) at (1078,594) {VCC};
\node[lbl,rotate=90] (gndc1) at (943,662) {GND};
\node[lbl] (c1l) at (1002,642) {C1};
\node[lbl] (c1v) at (1005,683) {1uf};
\node[lbl] (vccc1) at (1092,644) {VCC};
% top text
\node[lbl,rotate=90] (vcctop) at (881.5,184) {VCC};
\node[lbl,rotate=90] (r3l) at (887,260.7) {R3};
\node[lbl,rotate=90] (r3v) at (912,257.3) {10k};
\node[netl] (btn2) at (821,312.3) {BUTTON};
\node[lbl] (s1l) at (957,275.7) {S1};
\node[pn] (s1) at (945,306) {1};
\node[pn] (s2) at (945,319.3) {2};
\node[pn] (s3) at (980,306) {3};
\node[pn] (s4) at (980,319.3) {4};
\node[lbl] (gnds1) at (1066.7,346.7) {GND};
\node[netl] (ledn) at (508,351.3) {LED};
\node[lbl] (r2l) at (600.6,339) {R2};
\node[lbl] (r2v) at (604,363.7) {499};
\node[lbl,font=\fontsize{12.8}{13}\selectfont] (ledl) at (665,326.7) {LEDFAB1206};
\node[lbl] (u4) at (689.4,337.7) {U\$4};
\node[lbl,rotate=90] (gndled) at (764.4,352.3) {GND};
% AVRISP text
\node[lbl] (u2) at (656.7,720) {U\$2};
\node[pn,anchor=west] (am) at (651.7,733) {MISO};
\node[pn,anchor=west] (as) at (651.7,746.7) {SCK};
\node[pn,anchor=west] (ar) at (651.7,759.7) {RST};
\node[pn,anchor=east] (av) at (716,733) {VCC};
\node[pn,anchor=east] (ao) at (716,746.7) {MOSI};
\node[pn,anchor=east] (ag) at (716,759.7) {GND};
\node[netl] (miso2) at (586,740.3) {MISO};
\node[netl] (sck2) at (586,753.3) {SCK};
\node[netl] (rst2) at (586,766.3) {RST};
\node[netl] (mosi2) at (730.7,753.3) {MOSI};
\node[lbl,anchor=west,font=\fontsize{11.4}{12}\selectfont] (avr) at (646,787.7) {AVRISPSMD};
\node[lbl] (gndavr) at (754.3,800) {GND};
\node[lbl] (vccavr) at (766.7,722.3) {VCC};
% ---- taskbar ----
\fill[taskbg] (0,1040) rectangle (1920,1080);
\fill[white] (11,1049.5) -- (23,1047.5) -- (23,1059) -- (11,1059) -- cycle;
\fill[white] (24.5,1047.3) -- (37.5,1045.5) -- (37.5,1059) -- (24.5,1059) -- cycle;
\fill[white] (11,1060.5) -- (23,1060.5) -- (23,1070.5) -- (11,1069) -- cycle;
\fill[white] (24.5,1060.5) -- (37.5,1060.5) -- (37.5,1073) -- (24.5,1071) -- cycle;
\draw[orange!85!yellow,line width=1.2pt,rotate around={-35:(80,1060)}] (80,1060) ellipse [x radius=17,y radius=6];
\node[inner sep=0pt,text=cyan!70!blue,font=\fontsize{31}{31}\selectfont\bfseries] (ie) at (80,1058) {e};
\fill[yellow!60!orange] (128,1052) rectangle (156,1074);
\fill[yellow!35!orange!80] (128,1048) rectangle (141,1053);
\fill[white!80!yellow] (131,1052) rectangle (153,1056);
\fill[cyan!60!blue] (138,1062) rectangle (150,1072);
\fill[white] (142,1062) rectangle (146,1067);
% task buttons
\draw[taskedge,fill=taskbtn,line width=.8pt] (177,1042) rectangle (333,1078);
\draw[taskedge,fill=taskbtn,line width=.8pt] (338.5,1042) rectangle (495,1078);
\draw[white,fill=taskact,line width=1pt] (497,1042) rectangle (656,1078);
\draw[taskedge,fill=taskbtn,line width=.8pt] (657.5,1042) rectangle (815,1078);
\fill[red!80!black] (201,1060) -- ++(90:14.5) arc (90:-30:14.5) -- cycle;
\fill[red!80!black] (201,1060) -- ++(30:14.5) arc (30:150:14.5) -- cycle;
\fill[yellow!85!orange] (201,1060) -- ++(-30:14.5) arc (-30:-90:14.5) -- cycle;
\fill[green!55!black] (201,1060) -- ++(150:14.5) arc (150:270:14.5) -- cycle;
\fill[yellow!85!orange] (201,1060) -- ++(30:14.5) arc (30:-90:14.5) -- cycle;
\fill[white] (201,1060) circle [radius=7];
\fill[blue!55!cyan] (201,1060) circle [radius=5.6];
\fill[white] (222,1054.5) -- (231,1060) -- (222,1065.5) -- cycle;
\node[taskt] (t1) at (235,1060) {Keep Your Hea...};
\fill[red!55!orange!90!black] (365,1043) .. controls (349,1046) and (343,1066) .. (358,1077) .. controls (361,1070) and (372,1068) .. (362,1056) .. controls (360,1052) and (364,1046) .. (372,1044) -- cycle;
\node[taskt] (t2) at (383.5,1060) {Control Panel - C:...};
\draw[black!70,line width=1.6pt,rounded corners=2pt] (513,1044) -- (530,1044) -- (534,1048) -- (534,1076) -- (513,1076) -- cycle;
\fill[black!12] (511,1052) rectangle (534,1067);
\node[inner sep=0pt,text=red!80!black,font=\fontsize{10}{10}\selectfont] (schico) at (522.5,1059.5) {SCH};
\node[taskt] (t3) at (543.6,1060) {1 Schematic - C:\textbackslash ...};
\draw[black!70,line width=1.6pt,rounded corners=2pt] (673,1044) -- (690,1044) -- (694,1048) -- (694,1076) -- (673,1076) -- cycle;
\fill[black!12] (671,1052) rectangle (694,1067);
\node[inner sep=0pt,text=green!60!black,font=\fontsize{10}{10}\selectfont] (brdico) at (682.5,1059.5) {BRD};
\node[taskt] (t4) at (703,1060) {2 Board - C:\textbackslash Users...};
% tray
\fill[white] (1733,1063.5) -- (1741,1063.5) -- (1737,1060) -- cycle;
\draw[white,line width=1.2pt] (1755,1054) -- (1755,1068);
\fill[white] (1756,1054.5) -- (1768,1056.5) -- (1765,1059) -- (1768,1061) -- (1756,1061) -- cycle;
\fill[white] (1778,1055.5) -- (1784.5,1054.5) -- (1784.5,1060) -- (1778,1060) -- cycle;
\fill[white] (1785.5,1054.3) -- (1792,1053.3) -- (1792,1060) -- (1785.5,1060) -- cycle;
\fill[white] (1778,1061) -- (1784.5,1061) -- (1784.5,1066.5) -- (1778,1065.5) -- cycle;
\fill[white] (1785.5,1061) -- (1792,1061) -- (1792,1067.5) -- (1785.5,1066.5) -- cycle;
\draw[white,line width=1pt] (1804,1055.5) circle [radius=2.7];
\draw[white,line width=1pt] (1804,1058) -- (1804,1067) -- (1812,1067) (1808,1055) -- (1816,1055) -- (1816,1063) -- (1804,1063);
\fill[white] (1826,1057) -- (1830,1057) -- (1834,1055) -- (1834,1068) -- (1830,1065) -- (1826,1065) -- cycle;
\draw[white,line width=.8pt] (1836,1058) .. controls (1838,1060) and (1838,1063) .. (1836,1065);
\draw[white,line width=.8pt] (1838.5,1056.5) .. controls (1841,1059) and (1841,1064) .. (1838.5,1066.5);
\node[inner sep=0pt,text=white,font=\fontsize{11.5}{13}\selectfont\ui,text height=8.5pt,text depth=0pt] (clock) at (1881,1053) {13:47};
\node[inner sep=0pt,text=white,font=\fontsize{11.5}{13}\selectfont\ui,text height=8.5pt,text depth=0pt] (date) at (1880,1069) {7.3.2016};
\end{tikzpicture}
\end{document}
